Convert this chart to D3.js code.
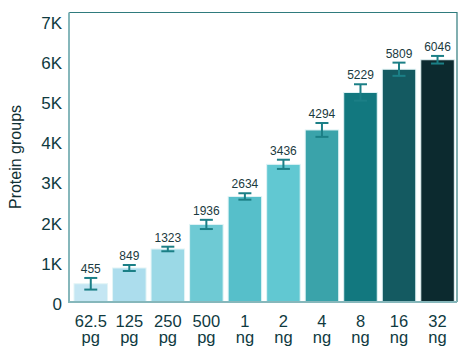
<!DOCTYPE html>
<html>
<head>
<meta charset="utf-8">
<script src="https://cdn.jsdelivr.net/npm/d3@7"></script>
<style>
  html, body { margin: 0; padding: 0; background: #fff; }
  svg { display: block; font-family: Arial, "Liberation Sans", sans-serif; }
</style>
</head>
<body>
<svg id="chart" width="468" height="355"></svg>
<script>
const categoriesTop = ["62.5", "125", "250", "500", "1", "2", "4", "8", "16", "32"];
const categoriesUnit = ["pg", "pg", "pg", "pg", "ng", "ng", "ng", "ng", "ng", "ng"];
const values = [455, 849, 1323, 1936, 2634, 3436, 4294, 5229, 5809, 6046];
const errors = [145, 75, 57, 115, 80, 115, 173, 205, 165, 95];
const colors = ["#c4e6f3", "#acdded", "#9bd9e6", "#6ecad4", "#56bfca", "#61c8d2", "#3aa3aa", "#12787f", "#145a61", "#0c2a2f"];
const yTicks = [0, 1000, 2000, 3000, 4000, 5000, 6000, 7000];
const yTickLabels = ["0", "1K", "2K", "3K", "4K", "5K", "6K", "7K"];

const svg = d3.select("#chart");
const mLeft = 69, mRight = 457, mTop = 12.5, mBottom = 302;

const x = d3.scaleBand().domain(d3.range(values.length))
  .range([mLeft, mRight]).paddingInner(0.13).paddingOuter(0.1).align(0.65);
const y = d3.scaleLinear().domain([0, 7225]).range([mBottom, mTop]);

// bars
svg.append("g").selectAll("rect").data(values).join("rect")
  .attr("x", (d, i) => x(i))
  .attr("y", d => y(d))
  .attr("width", x.bandwidth())
  .attr("height", d => y(0) - y(d))
  .attr("fill", (d, i) => colors[i])
  .attr("stroke", "#e2f4f6")
  .attr("stroke-width", 1);

// error bars
const errColor = "#1b7f86";
const eg = svg.append("g").attr("stroke", errColor).attr("stroke-width", 2);
values.forEach((v, i) => {
  const cx = x(i) + x.bandwidth() / 2;
  const y1 = y(v + errors[i]), y2 = y(v - errors[i]);
  eg.append("line").attr("x1", cx).attr("x2", cx).attr("y1", y1).attr("y2", y2);
  eg.append("line").attr("x1", cx - 6.5).attr("x2", cx + 6.5).attr("y1", y1).attr("y2", y1);
  eg.append("line").attr("x1", cx - 6.5).attr("x2", cx + 6.5).attr("y1", y2).attr("y2", y2);
});

// value labels
svg.append("g").selectAll("text").data(values).join("text")
  .attr("x", (d, i) => x(i) + x.bandwidth() / 2)
  .attr("y", (d, i) => y(d + errors[i]) - 5)
  .attr("text-anchor", "middle")
  .attr("font-size", 12)
  .attr("fill", "#1a3a40")
  .text(d => d);

// frame top/right
svg.append("path")
  .attr("d", `M${mLeft},${mTop}H${mRight}V${mBottom}`)
  .attr("fill", "none").attr("stroke", "#2f7b7d").attr("stroke-width", 1.2);

// y axis
const yAxis = d3.axisLeft(y).tickValues(yTicks).tickSize(0).tickPadding(7)
  .tickFormat((d, i) => yTickLabels[i]);
const yg = svg.append("g").attr("transform", `translate(${mLeft},0)`).call(yAxis);
yg.select(".domain").remove();
yg.selectAll("text").attr("font-size", 17).attr("fill", "#0f3a3f")
  .attr("font-family", "Arial, 'Liberation Sans', sans-serif").attr("dy", "0.42em");

// x axis
const xAxis = d3.axisBottom(x).tickSize(0).tickPadding(0).tickFormat(() => "");
const xg = svg.append("g").attr("transform", `translate(0,${mBottom})`).call(xAxis);
xg.select(".domain").remove();
xg.selectAll(".tick text").each(function(d) {
  const t = d3.select(this).attr("y", 0).attr("dy", null)
    .attr("font-size", 16.5).attr("fill", "#0f3a3f")
    .attr("font-family", "Arial, 'Liberation Sans', sans-serif");
  t.append("tspan").attr("x", 0).attr("y", 25).text(categoriesTop[d]);
  t.append("tspan").attr("x", 0).attr("y", 41).text(categoriesUnit[d]);
});

// left & bottom axis lines
svg.append("path")
  .attr("d", `M${mLeft},${mTop}V${mBottom}H${mRight}`)
  .attr("fill", "none").attr("stroke", "#86b7bb").attr("stroke-width", 2);

// y title
svg.append("text")
  .attr("transform", `translate(21,157) rotate(-90)`)
  .attr("text-anchor", "middle")
  .attr("font-size", 16)
  .attr("fill", "#0f2f33")
  .text("Protein groups");
</script>
</body>
</html>
